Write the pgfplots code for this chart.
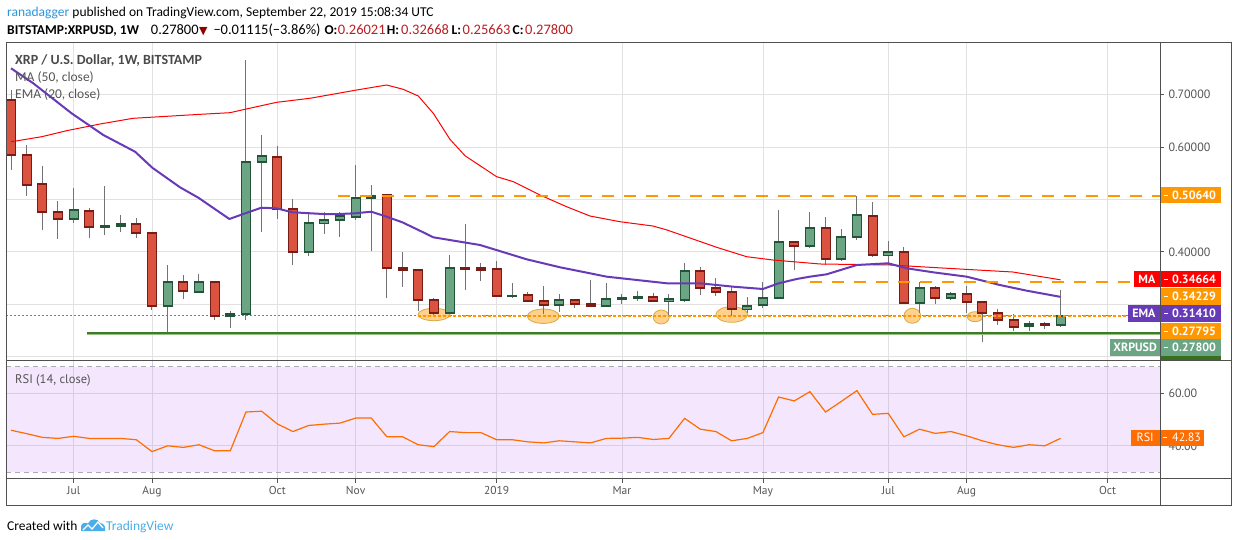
\documentclass[border=0pt]{standalone}
\usepackage{pgfplots}
\pgfplotsset{compat=1.18}
\usepackage{pgfplotstable}
\usepackage{fontspec}
\setmainfont{Carlito}
\newfontfamily\ptf{PT Sans}
\newfontfamily\djf{DejaVu Sans}

\definecolor{bearfill}{RGB}{217,83,64}
\definecolor{bearedge}{RGB}{122,28,22}
\definecolor{bullfill}{RGB}{107,165,131}
\definecolor{bulledge}{RGB}{34,84,55}
\definecolor{wick}{RGB}{115,115,117}
\definecolor{mared}{RGB}{255,0,0}
\definecolor{emapurple}{RGB}{103,58,183}
\definecolor{orng}{RGB}{255,152,0}
\definecolor{gline}{RGB}{62,122,43}
\definecolor{glinelight}{RGB}{150,195,130}
\definecolor{gridc}{RGB}{226,226,226}
\definecolor{framec}{RGB}{80,80,80}
\definecolor{txtgray}{RGB}{85,85,85}
\definecolor{titlec}{RGB}{74,74,74}
\definecolor{rsiline}{RGB}{255,109,0}
\definecolor{rsibg}{RGB}{243,230,253}
\definecolor{rsigrid}{RGB}{216,206,226}
\definecolor{rsidash}{RGB}{175,168,185}
\definecolor{tvblue}{RGB}{41,151,223}
\definecolor{tvlight}{RGB}{72,175,235}
\definecolor{hred}{RGB}{185,30,35}
\definecolor{darkred}{RGB}{139,0,0}
\definecolor{ellfill}{RGB}{255,204,128}
\definecolor{elldraw}{RGB}{214,172,70}
\definecolor{lastp}{RGB}{90,140,110}
\definecolor{dgstrip}{RGB}{56,110,30}

\pgfplotstableread[row sep=\\]{
i o h l c\\
0 0.6895 0.7086 0.556 0.5846\\
1 0.5846 0.6036 0.507 0.5268\\
2 0.5288 0.5637 0.4422 0.4754\\
3 0.4754 0.4969 0.425 0.462\\
5 0.4773 0.483 0.4269 0.4467\\
8 0.4525 0.4645 0.4269 0.4353\\
9 0.4353 0.4372 0.2896 0.2961\\
11 0.3419 0.3558 0.31 0.3247\\
13 0.3419 0.3438 0.2694 0.277\\
17 0.5802 0.6012 0.4632 0.4811\\
18 0.4811 0.5002 0.3743 0.3991\\
24 0.5078 0.508 0.3125 0.3686\\
25 0.3686 0.3991 0.3335 0.3648\\
26 0.3648 0.3672 0.2878 0.3075\\
27 0.3075 0.3114 0.2782 0.2828\\
29 0.3686 0.453 0.3278 0.3672\\
30 0.3686 0.3781 0.345 0.3648\\
31 0.3667 0.3825 0.3133 0.3152\\
33 0.3171 0.3228 0.3037 0.3056\\
34 0.3056 0.3342 0.282 0.298\\
36 0.3075 0.3095 0.2934 0.2999\\
37 0.2999 0.3457 0.2961 0.2961\\
41 0.3133 0.3209 0.3037 0.3056\\
44 0.3629 0.3705 0.3182 0.3304\\
45 0.3304 0.3495 0.3152 0.3228\\
46 0.3228 0.3323 0.2782 0.2904\\
50 0.4182 0.42 0.3648 0.4105\\
52 0.4449 0.4658 0.3743 0.3857\\
55 0.4677 0.495 0.3896 0.3934\\
57 0.3991 0.4086 0.3018 0.303\\
59 0.3304 0.3342 0.3011 0.3114\\
61 0.319 0.3342 0.2828 0.3037\\
62 0.3037 0.3056 0.2275 0.2828\\
63 0.2828 0.2904 0.2599 0.2694\\
64 0.2694 0.2809 0.2484 0.2561\\
66 0.2628 0.2656 0.2522 0.2602\\
}\bear

\pgfplotstableread[row sep=\\]{
i o h l c\\
4 0.462 0.5211 0.4555 0.4792\\
6 0.4475 0.525 0.4326 0.4485\\
7 0.4487 0.4702 0.4384 0.4525\\
10 0.2961 0.3749 0.2465 0.3419\\
12 0.3228 0.3577 0.321 0.3419\\
14 0.277 0.2866 0.2553 0.2808\\
15 0.2808 0.7658 0.2694 0.5707\\
16 0.5707 0.6228 0.4372 0.5822\\
19 0.3991 0.4754 0.3915 0.4544\\
20 0.4544 0.4754 0.4346 0.4601\\
21 0.4601 0.4754 0.4288 0.4677\\
22 0.4658 0.5656 0.4601 0.5021\\
23 0.5021 0.5274 0.4022 0.5059\\
28 0.2828 0.3934 0.281 0.3686\\
32 0.3152 0.34 0.3125 0.3163\\
35 0.298 0.319 0.2858 0.3075\\
38 0.2961 0.34 0.2958 0.3095\\
39 0.3095 0.319 0.3 0.3114\\
40 0.3114 0.3247 0.3056 0.3133\\
42 0.3056 0.319 0.2782 0.3095\\
43 0.3075 0.3781 0.305 0.3629\\
47 0.2904 0.3133 0.2828 0.2961\\
48 0.298 0.3419 0.2923 0.3114\\
49 0.3114 0.4792 0.3095 0.4182\\
51 0.4105 0.4754 0.4067 0.4449\\
53 0.3857 0.4429 0.3819 0.4277\\
54 0.4277 0.5064 0.422 0.4696\\
56 0.3934 0.4206 0.3743 0.3991\\
58 0.303 0.3419 0.2828 0.3304\\
60 0.3114 0.324 0.3075 0.319\\
65 0.258 0.2675 0.2484 0.2618\\
67 0.26021 0.32668 0.25663 0.278\\
}\bull

\pgfplotstableread[row sep=\\]{
i r\\
0 45.9\\ 1 44.6\\ 2 43.2\\ 3 42.8\\ 4 43.6\\ 5 42.8\\ 6 42.8\\ 7 42.8\\ 8 42.3\\ 9 37.8\\
10 40.0\\ 11 39.4\\ 12 40.4\\ 13 38.1\\ 14 38.1\\ 15 52.8\\ 16 53.1\\ 17 48.3\\ 18 45.4\\ 19 47.7\\
20 48.2\\ 21 48.6\\ 22 50.5\\ 23 50.5\\ 24 43.4\\ 25 43.4\\ 26 40.4\\ 27 39.7\\ 28 45.4\\ 29 45.0\\
30 45.0\\ 31 42.3\\ 32 42.3\\ 33 41.5\\ 34 41.1\\ 35 41.9\\ 36 41.5\\ 37 41.1\\ 38 42.8\\ 39 42.9\\
40 43.2\\ 41 42.4\\ 42 42.8\\ 43 50.4\\ 44 46.3\\ 45 45.4\\ 46 41.9\\ 47 42.8\\ 48 45.0\\ 49 58.5\\
50 57.0\\ 51 60.5\\ 52 52.8\\ 53 56.8\\ 54 60.9\\ 55 51.9\\ 56 52.3\\ 57 43.4\\ 58 46.3\\ 59 44.7\\
60 45.4\\ 61 43.8\\ 62 41.9\\ 63 40.4\\ 64 39.4\\ 65 40.4\\ 66 40.0\\ 67 42.83\\
}\rsi

\newcommand{\pricebox}[3]{%
  \fill[#1] (1161pt,{-(#2-8.3)*1pt}) rectangle (1220.7pt,{-(#2+8.3)*1pt});
  \draw[white, line width=0.8pt] (1164pt,{-#2*1pt}) -- (1168pt,{-#2*1pt});
  \node[anchor=west, inner sep=0, text=white, font=\ptf\bfseries\fontsize{12}{14}\selectfont] at (1172pt,{-#2*1pt}) {#3};}
\newcommand{\tagbox}[4]{%
  \fill[#1] (#2pt,{-(#3-8.3)*1pt}) rectangle (1160pt,{-(#3+8.3)*1pt});
  \node[anchor=center, inner sep=0, text=white, font=\ptf\bfseries\fontsize{12}{14}\selectfont] at ({(#2+1160)/2*1pt},{-#3*1pt}) {#4};}
\newcommand{\hd}[2]{\node[anchor=base west, inner sep=0, font=\fontsize{13.5}{16}\selectfont] at (#1pt,-34.3pt) {#2};}
\newcommand{\num}[1]{{\fontsize{14.5}{16}\selectfont #1}}

\begin{document}
\begin{tikzpicture}
\path[use as bounding box, fill=white] (0,0) rectangle (1234pt,-540pt);
\fill[rsibg] (6pt,-366.6pt) rectangle (1160pt,-472.2pt);

% ---------------- main price pane ----------------
\begin{axis}[
  at={(6pt,-360pt)}, anchor=south west, scale only axis,
  width=1154pt, height=317pt,
  xmin=-0.3192, xmax=73.35, ymin=0.19371, ymax=0.79821,
  xtick={4,9,17,22,31,39,48,56,61,70}, xticklabels={,,,,,,,,,},
  every x tick/.style={draw=none},
  ytick={0.2,0.3,0.4,0.5,0.6,0.7}, yticklabels={,,0.40000,,0.60000,0.70000},
  ytick pos=right, yticklabel pos=right, tick align=outside, major tick length=4pt,
  every y tick/.style={draw=txtgray, line width=0.8pt},
  yticklabel style={font=\ptf\fontsize{12}{14}\selectfont, text=txtgray, xshift=1pt},
  grid=major, major grid style={draw=gridc, line width=0.8pt},
  axis line style={draw=framec, line width=1pt},
  clip=true,
]
% last price line
\addplot[lastp, line width=0.8pt, dash pattern=on 2pt off 2pt, forget plot] coordinates {(-0.3192,0.278) (73.35,0.278)};
% ellipses (annotations)
\filldraw[fill=ellfill, draw=elldraw, line width=0.8pt, fill opacity=0.9] (axis cs:27.0,0.2805) ellipse [x radius=16pt, y radius=6.2pt];
\filldraw[fill=ellfill, draw=elldraw, line width=0.8pt, fill opacity=0.9] (axis cs:33.98,0.2772) ellipse [x radius=16pt, y radius=7.2pt];
\filldraw[fill=ellfill, draw=elldraw, line width=0.8pt, fill opacity=0.9] (axis cs:41.51,0.2757) ellipse [x radius=8pt, y radius=7pt];
\filldraw[fill=ellfill, draw=elldraw, line width=0.8pt, fill opacity=0.9] (axis cs:46.01,0.2805) ellipse [x radius=15.8pt, y radius=7.8pt];
\filldraw[fill=ellfill, draw=elldraw, line width=0.8pt, fill opacity=0.9] (axis cs:57.54,0.278) ellipse [x radius=8.3pt, y radius=7.5pt];
\filldraw[fill=ellfill, draw=elldraw, line width=0.8pt, fill opacity=0.9] (axis cs:61.54,0.2763) ellipse [x radius=7.7pt, y radius=5pt];
% wicks
\addplot[draw=none, mark=none, forget plot, error bars/.cd, y dir=both, y explicit, error mark=none,
  error bar style={draw=wick, line width=1pt}]
  table[x=i, y expr={(\thisrow{h}+\thisrow{l})/2}, y error expr={(\thisrow{h}-\thisrow{l})/2}] {\bear};
\addplot[draw=none, mark=none, forget plot, error bars/.cd, y dir=both, y explicit, error mark=none,
  error bar style={draw=wick, line width=1pt}]
  table[x=i, y expr={(\thisrow{h}+\thisrow{l})/2}, y error expr={(\thisrow{h}-\thisrow{l})/2}] {\bull};
% bodies: edge
\addplot[draw=none, mark=none, forget plot, error bars/.cd, y dir=both, y explicit, error mark=none,
  error bar style={draw=bearedge, line width=10pt}]
  table[x=i, y expr={(\thisrow{o}+\thisrow{c})/2}, y error expr={abs(\thisrow{o}-\thisrow{c})/2+0.0019}] {\bear};
\addplot[draw=none, mark=none, forget plot, error bars/.cd, y dir=both, y explicit, error mark=none,
  error bar style={draw=bulledge, line width=10pt}]
  table[x=i, y expr={(\thisrow{o}+\thisrow{c})/2}, y error expr={abs(\thisrow{o}-\thisrow{c})/2+0.0019}] {\bull};
% bodies: fill
\addplot[draw=none, mark=none, forget plot, error bars/.cd, y dir=both, y explicit, error mark=none,
  error bar style={draw=bearfill, line width=8pt}]
  table[x=i, y expr={(\thisrow{o}+\thisrow{c})/2}, y error expr={max(abs(\thisrow{o}-\thisrow{c})/2-0.0019,0)}] {\bear};
\addplot[draw=none, mark=none, forget plot, error bars/.cd, y dir=both, y explicit, error mark=none,
  error bar style={draw=bullfill, line width=8pt}]
  table[x=i, y expr={(\thisrow{o}+\thisrow{c})/2}, y error expr={max(abs(\thisrow{o}-\thisrow{c})/2-0.0019,0)}] {\bull};
% MA 50
\addplot[mared, line width=1pt, mark=none] coordinates {
(0,0.6098) (1.96,0.6195) (3.56,0.631) (5.68,0.6437) (7.79,0.6546) (12.07,0.6622) (13.98,0.6653)
(14.94,0.6718) (16.96,0.6851) (19.09,0.6928) (22.07,0.7086) (23.98,0.7181) (25.04,0.7099) (26,0.6971)
(26.96,0.6641) (28.02,0.6146) (28.98,0.5833) (31,0.5433) (32.07,0.5337) (33.77,0.5084) (35.47,0.486)
(36.96,0.4683) (38.88,0.4574) (40.98,0.4492) (41.88,0.4416) (45.05,0.4086) (46.96,0.3907) (48.64,0.3844)
(51.65,0.3768) (56.11,0.3749) (60.58,0.3672) (63.96,0.3615) (67,0.3466)};
% EMA 20
\addplot[emapurple, line width=2pt, mark=none, line join=round] coordinates {
(0,0.750) (1.42,0.7214) (3.87,0.6641) (5.89,0.6228) (7.92,0.5909) (9.02,0.5604) (10.79,0.523)
(11.96,0.5032) (13.94,0.4626) (14.96,0.4735) (15.98,0.4841) (16.94,0.483) (17.96,0.4754) (19.94,0.4721)
(20.96,0.4721) (21.98,0.4735) (23,0.4765) (23.98,0.467) (24.98,0.4563) (26.1,0.4403) (26.96,0.4277)
(29.94,0.413) (32.92,0.3857) (35.05,0.3705) (38.03,0.3526) (41.86,0.34) (43.98,0.34) (46.11,0.3335)
(48,0.3291) (49.01,0.34) (50.16,0.3482) (51,0.3526) (52.07,0.3571) (54,0.3749) (56,0.3781)
(57.18,0.3686) (58.88,0.3609) (61.01,0.3526) (63.13,0.3367) (64.84,0.3259) (67,0.3141)};
% horizontal drawings
\addplot[orng, line width=2.5pt, dash pattern=on 12pt off 10pt, mark=none] coordinates {(20.87,0.5064) (73.35,0.5064)};
\addplot[orng, line width=2.5pt, dash pattern=on 12pt off 10pt, mark=none] coordinates {(51.0,0.34229) (73.35,0.34229)};
\addplot[orng, line width=1.8pt, dash pattern=on 3pt off 2pt, mark=none] coordinates {(25.98,0.27795) (73.35,0.27795)};
\addplot[glinelight, line width=3.6pt, mark=none] coordinates {(4.87,0.2446) (73.35,0.2446)};
\addplot[gline, line width=2pt, mark=none] coordinates {(4.87,0.2446) (73.35,0.2446)};
\end{axis}

% ---------------- RSI pane ----------------
\begin{axis}[
  at={(6pt,-478.7pt)}, anchor=south west, scale only axis,
  width=1154pt, height=118.7pt,
  xmin=-0.3192, xmax=73.35, ymin=27.54, ymax=72.5,
  xtick={4,9,17,22,31,39,48,56,61,70},
  xticklabels={Jul,Aug,Oct,Nov,2019,Mar,May,Jul,Aug,Oct},
  xtick pos=bottom, xticklabel pos=bottom,
  ytick={40,60}, yticklabels={40.00,60.00},
  ytick pos=right, yticklabel pos=right, tick align=outside, major tick length=4pt,
  tick style={draw=txtgray, line width=0.8pt},
  xticklabel style={font=\ptf\fontsize{11.5}{13}\selectfont, text=txtgray},
  yticklabel style={font=\ptf\fontsize{12}{14}\selectfont, text=txtgray, xshift=1pt},
  grid=major, major grid style={draw=rsigrid, line width=0.8pt},
  extra y ticks={30,70}, extra y tick labels={},
  extra y tick style={major tick length=0pt, major grid style={draw=rsidash, line width=0.8pt, dash pattern=on 5pt off 4pt}},
  axis line style={draw=framec, line width=1pt},
]
\addplot[rsiline, line width=1.2pt, mark=none] table[x=i, y=r] {\rsi};
\end{axis}

% ---------------- frame ----------------
\draw[framec, line width=1pt] (6pt,-43pt) rectangle (1231pt,-505pt);
\draw[framec, line width=1pt] (1160pt,-43pt) -- (1160pt,-505pt);
\draw[framec, line width=1pt] (1160pt,-360pt) -- (1231pt,-360pt);
\draw[framec, line width=1pt] (6pt,-478.7pt) -- (1231pt,-478.7pt);

% ---------------- price labels ----------------
\pricebox{orng}{195}{0.50640}
\tagbox{mared}{1133.8}{279}{MA}
\pricebox{mared}{279}{0.34664}
\pricebox{orng}{296.3}{0.34229}
\tagbox{emapurple}{1127.6}{313.7}{EMA}
\pricebox{emapurple}{313.7}{0.31410}
\pricebox{orng}{331}{0.27795}
\tagbox{bullfill}{1110.3}{347.7}{XRPUSD}
\pricebox{bullfill}{347.7}{0.27800}
\fill[dgstrip] (1161pt,-356pt) rectangle (1220.7pt,-359.5pt);
% RSI labels
\fill[rsiline] (1131pt,-429.6pt) rectangle (1159.5pt,-445.8pt);
\node[text=white, font=\ptf\fontsize{12}{14}\selectfont, inner sep=0] at (1145.2pt,-437.7pt) {RSI};
\fill[rsiline] (1160.5pt,-429.6pt) rectangle (1204pt,-445.8pt);
\draw[white, line width=0.8pt] (1163pt,-437.7pt) -- (1167pt,-437.7pt);
\node[anchor=west, text=white, font=\ptf\fontsize{12}{14}\selectfont, inner sep=0] at (1172pt,-437.7pt) {42.83};

% ---------------- pane titles ----------------
\node[anchor=base west, inner sep=0, text=titlec, font=\bfseries\fontsize{14}{16}\selectfont] at (15pt,-64.3pt) {XRP / U.S. Dollar, 1W, BITSTAMP};
\node[anchor=base west, inner sep=0, text=txtgray, font=\fontsize{13.5}{16}\selectfont] at (15pt,-81.7pt) {MA (50, close)};
\node[anchor=base west, inner sep=0, text=txtgray, font=\fontsize{13.5}{16}\selectfont] at (15pt,-98.3pt) {EMA (20, close)};
\node[anchor=base west, inner sep=0, text=txtgray, font=\ptf\fontsize{12.5}{15}\selectfont] at (15pt,-383pt) {RSI (14, close)};

% ---------------- header ----------------
\node[anchor=base west, inner sep=0, font=\fontsize{13.5}{16}\selectfont] at (7pt,-17pt)
  {\textcolor{tvblue}{ranadagger} published on TradingView.com, September 22, 2019 15:08:34 UTC};
\hd{7}{\textbf{BITSTAMP:XRPUSD, 1W}}
\hd{150.7}{\num{0.27800}}
\hd{199}{{\djf\fontsize{11}{13}\selectfont\textcolor{darkred}{▼}}}
\hd{213.3}{\num{−0.01115}}
\hd{268.3}{\num{(−3.86\%)}}
\hd{324.3}{\textbf{O:}}
\hd{337.7}{\textcolor{hred}{\num{0.26021}}}
\hd{386.7}{\textbf{H:}}
\hd{401}{\textcolor{hred}{\num{0.32668}}}
\hd{451.5}{\textbf{L:}}
\hd{462.5}{\textcolor{hred}{\num{0.25663}}}
\hd{512.5}{\textbf{C:}}
\hd{525}{\textcolor{hred}{\num{0.27800}}}

% ---------------- footer ----------------
\node[anchor=base west, inner sep=0, font=\fontsize{13.5}{16}\selectfont] at (7pt,-530pt) {Created with};
\fill[tvlight] (81pt,-531pt) -- (81pt,-527pt) .. controls (81pt,-523pt) and (85pt,-522pt) .. (88pt,-523.5pt)
  .. controls (90pt,-518pt) and (98pt,-518pt) .. (100pt,-523pt) .. controls (104pt,-523pt) and (106pt,-527pt) .. (105pt,-531pt) -- cycle;
\draw[white, line width=1.3pt] (83pt,-530pt) -- (88pt,-525pt) -- (92pt,-529pt) -- (98pt,-522pt) -- (103pt,-528pt);
\node[anchor=base west, inner sep=0, text=tvlight, font=\fontsize{13.5}{16}\selectfont] at (106pt,-530pt) {TradingView};
\end{tikzpicture}
\end{document}
